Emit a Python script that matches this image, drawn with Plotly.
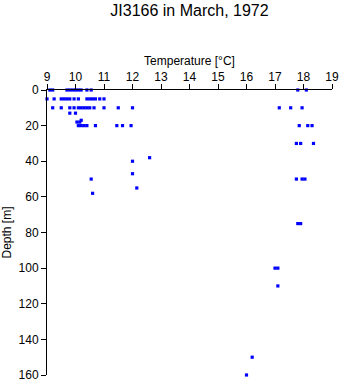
import plotly.graph_objects as go

# Temperature [°C] and depth [m] of each observation
temperature = [
    9.1, 9.2, 9.7, 9.8, 9.9, 10.0, 10.1, 10.2, 10.4, 10.55, 17.8, 18.1,
    9.0, 9.25, 9.5, 9.6, 9.7, 9.8, 9.95, 10.1, 10.4, 10.5, 10.6, 10.7, 10.85, 11.0,
    9.2, 9.5, 9.8, 9.95, 10.1, 10.2, 10.3, 10.4, 10.5, 10.65, 11.0, 11.5, 12.0,
    17.15, 17.55, 17.95,
    9.8, 10.0,
    10.05, 10.2, 10.15,
    10.1, 10.2, 10.3, 10.4, 10.7, 11.45, 11.65, 11.95, 17.85, 18.15, 18.3,
    17.75, 17.9, 18.35,
    12.6, 12.0, 12.0, 10.55, 17.75, 17.95, 18.05, 12.15, 10.6,
    17.8, 17.9, 17.0, 17.1, 17.1, 16.2, 16.0,
]
depth = [
    0, 0, 0, 0, 0, 0, 0, 0, 0, 0, 0, 0,
    5, 5, 5, 5, 5, 5, 5, 5, 5, 5, 5, 5, 5, 5,
    10, 10, 10, 10, 10, 10, 10, 10, 10, 10, 10, 10, 10,
    10, 10, 10,
    13, 13,
    18, 17, 18,
    20, 20, 20, 20, 20, 20, 20, 20, 20, 20, 20,
    30, 30, 30,
    38, 40, 47, 50, 50, 50, 50, 55, 58,
    75, 75, 100, 100, 110, 150, 160,
]

x_ticks = list(range(9, 20))
y_ticks = list(range(0, 161, 20))

FONT = "Liberation Sans, Arial, sans-serif"

fig = go.Figure(
    go.Scatter(
        x=temperature,
        y=depth,
        mode="markers",
        marker=dict(symbol="square", size=3.2, color="#0000ff", line=dict(width=0)),
        cliponaxis=False,
        hoverinfo="x+y",
    )
)

fig.update_layout(
    width=341,
    height=384,
    margin=dict(l=47, r=9, t=90, b=9, autoexpand=False),
    paper_bgcolor="white",
    plot_bgcolor="white",
    showlegend=False,
    font=dict(family=FONT, size=12, color="black"),
    title=dict(
        text="JI3166 in March, 1972",
        font=dict(family=FONT, size=16, color="black"),
        x=0.5,
        xref="paper",
        y=1 - 10 / 384,
        yref="container",
        yanchor="middle",
        xanchor="center",
    ),
)

fig.update_xaxes(
    side="top",
    range=[9, 19],
    tickvals=x_ticks,
    ticktext=[str(v) for v in x_ticks],
    ticks="outside",
    ticklen=5,
    tickcolor="black",
    tickwidth=1,
    showline=True,
    linecolor="black",
    linewidth=1,
    showgrid=False,
    zeroline=False,
    automargin=False,
    ticklabelstandoff=-2,
    title=dict(text="Temperature [°C]", standoff=2, font=dict(size=12)),
    tickfont=dict(size=12),
)

fig.update_yaxes(
    range=[160, 0],
    tickvals=y_ticks,
    ticktext=[str(v) for v in y_ticks],
    ticks="outside",
    ticklen=5,
    tickcolor="black",
    tickwidth=1,
    showline=True,
    linecolor="black",
    linewidth=1,
    showgrid=False,
    zeroline=False,
    automargin=False,
    title=dict(text="Depth [m]", standoff=5, font=dict(size=12)),
    tickfont=dict(size=12),
)

fig.write_html("out.html")
